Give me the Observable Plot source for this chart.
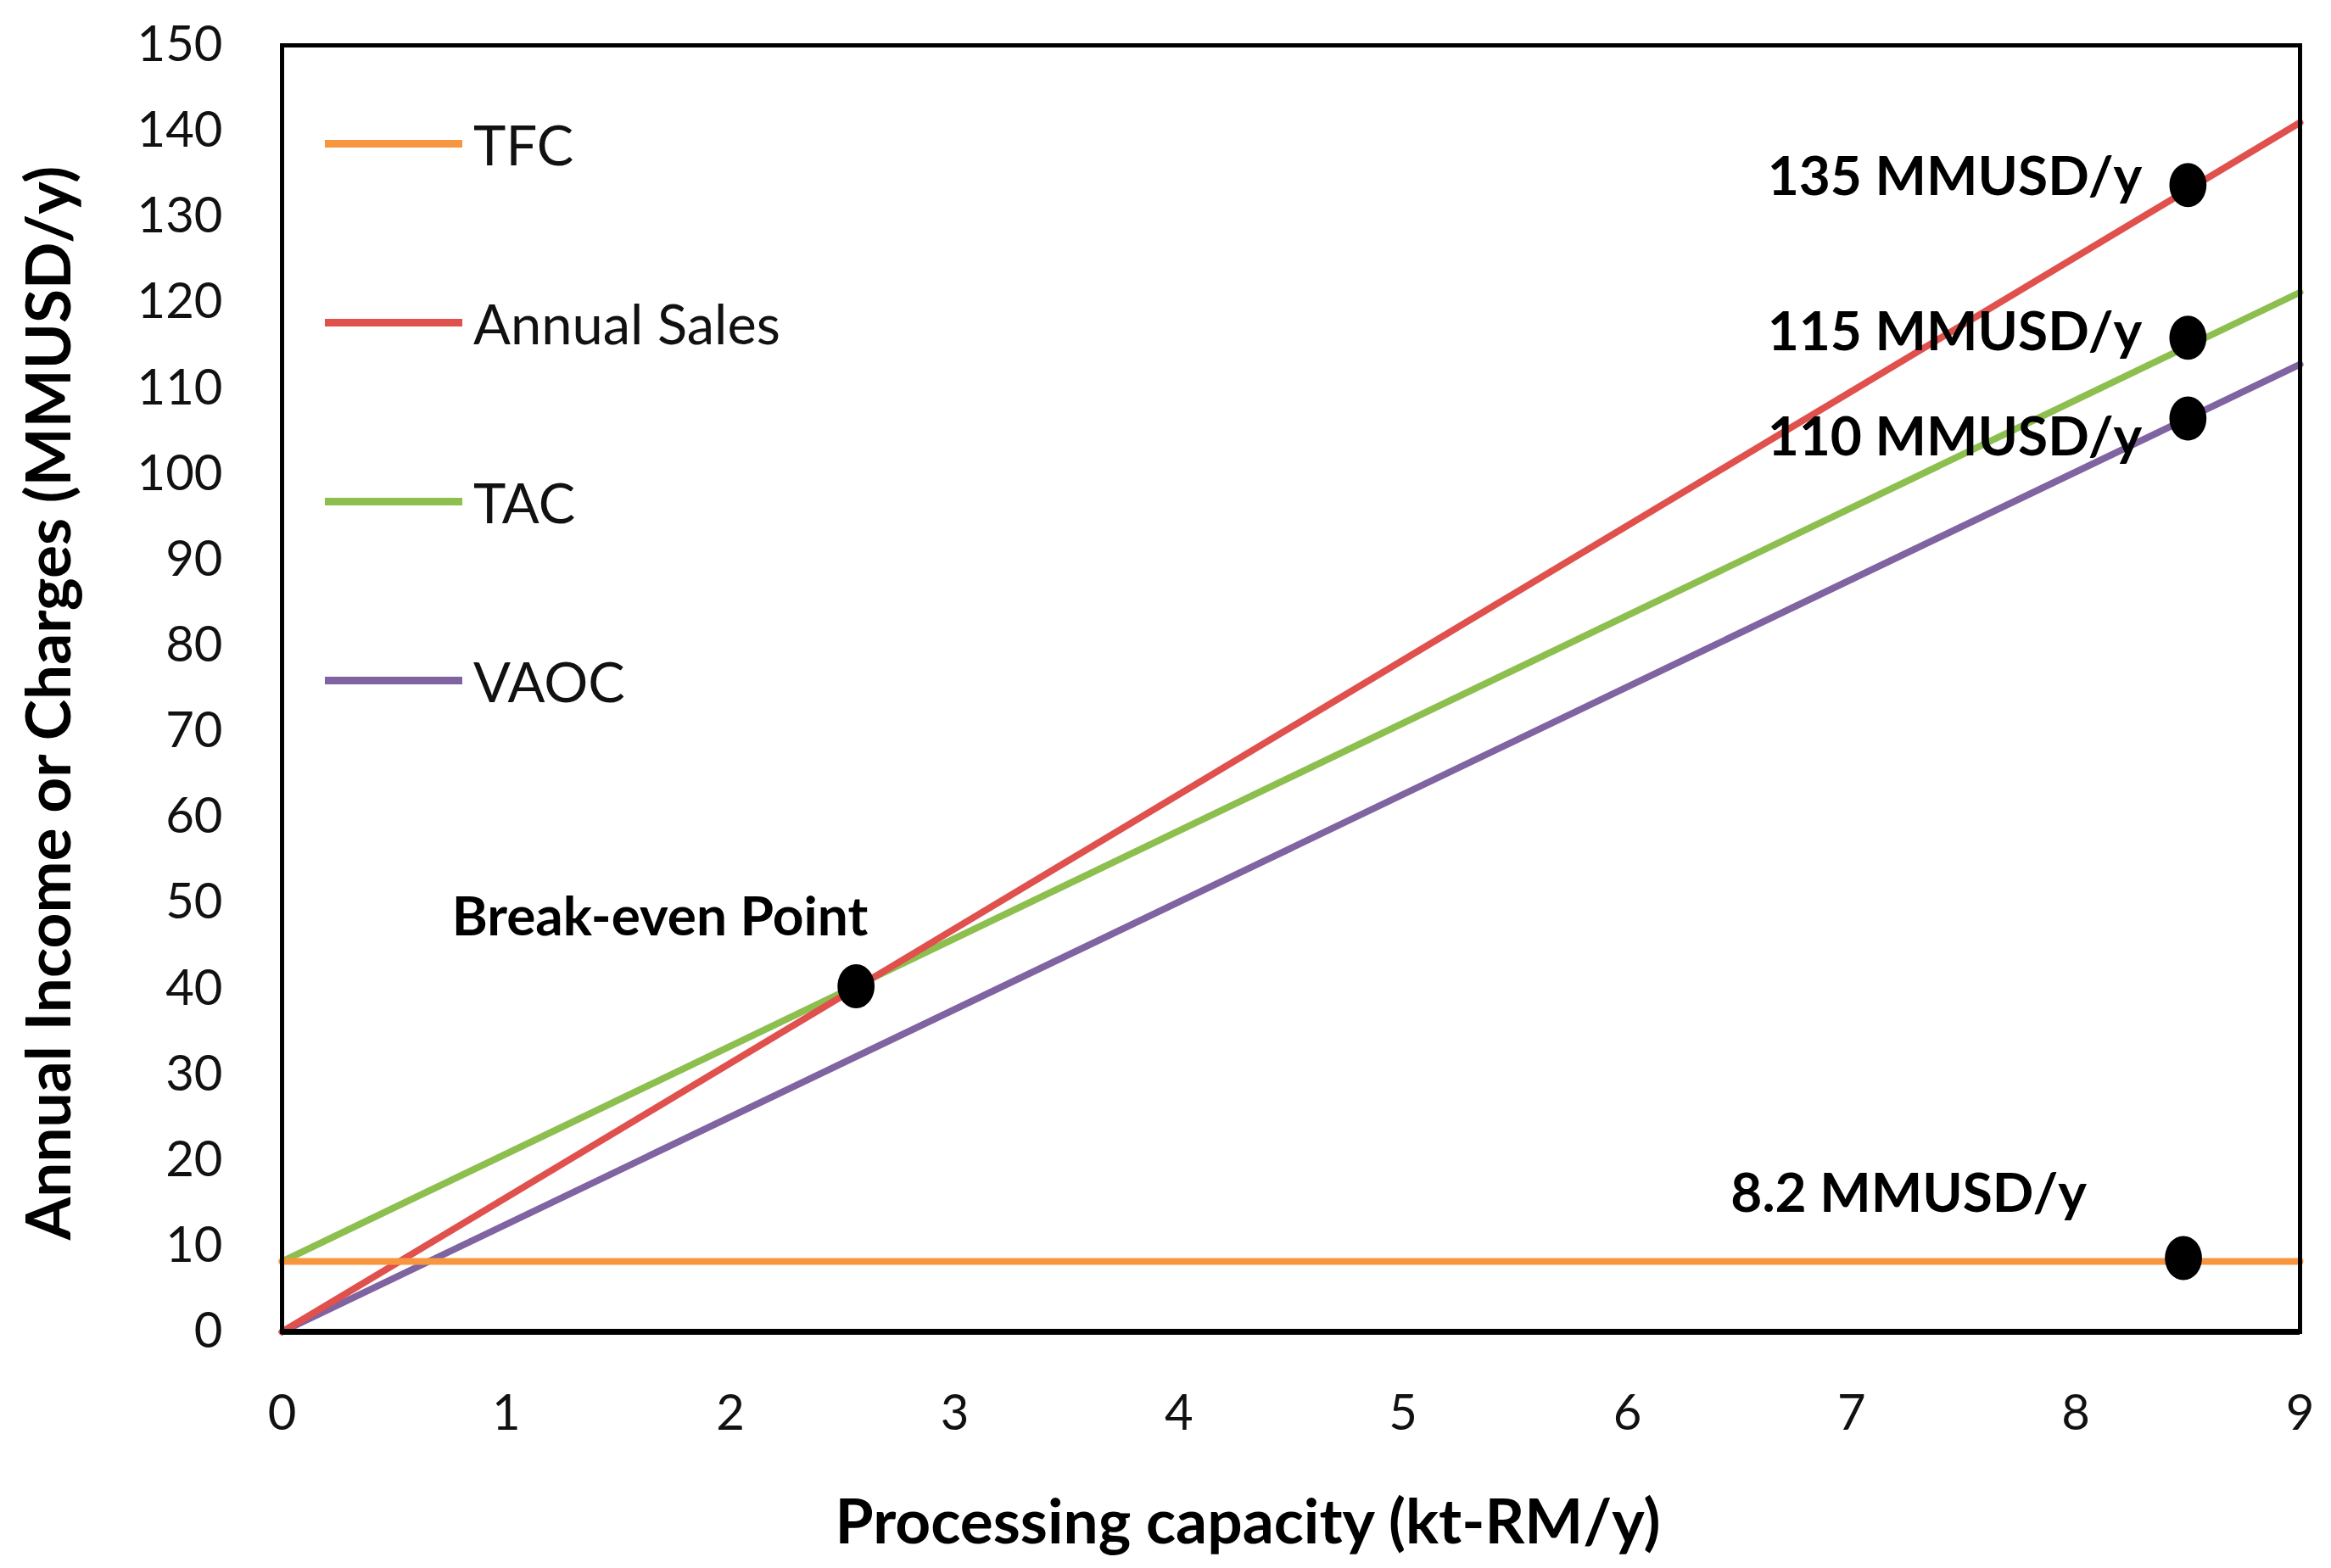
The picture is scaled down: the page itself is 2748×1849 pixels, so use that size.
<!DOCTYPE html>
<html>
<head>
<meta charset="utf-8">
<script src="https://cdn.jsdelivr.net/npm/d3@7"></script>
<script src="https://cdn.jsdelivr.net/npm/@observablehq/plot@0.6"></script>
<style>
  body { margin: 0; background: #fff; font-family: Lato, sans-serif; }
  #wrap { position: relative; width: 2748px; height: 1849px; }
  #legend { position: absolute; left: 383px; top: 64px; }
  #legend .row { display: flex; align-items: center; height: 211px; }
  #legend .swatch { width: 162px; height: 9px; margin-right: 13px; }
  #legend .name { font-size: 65px; color: #111; }
</style>
</head>
<body>
<div id="wrap">
  <div id="chart"></div>
  <div id="legend"></div>
</div>
<script>
// Break-even chart: income and charges vs processing capacity

const capacity = [0, 9];
const tfc = [8.2, 8.2];
const annualSales = [0, 141];
const tac = [8.2, 121.2];
const vaoc = [0, 112.8];

const seriesNames = ["TFC", "Annual Sales", "TAC", "VAOC"];
const seriesColors = ["#f7963f", "#e0504d", "#8dbf4f", "#8064a2"];

const markerX = [2.56, 8.5, 8.5, 8.5, 8.48];
const markerY = [40.3, 133.7, 115.9, 106.5, 8.6];
const markerLabels = ["Break-even Point", "135 MMUSD/y", "115 MMUSD/y", "110 MMUSD/y", "8.2 MMUSD/y"];

const yTicks = d3.range(0, 151, 10);
const xTicks = d3.range(0, 10, 1);

// label offsets (px) from each marker
const labelDx = [14, -54, -54, -54, -114];
const labelDy = [-80, -9, -6, 23, -75];

const seriesValues = [tfc, annualSales, tac, vaoc];
const lineRows = seriesNames.flatMap((name, i) =>
  capacity.map((x, j) => ({series: name, x, y: seriesValues[i][j]}))
);
const markers = markerX.map((x, i) => ({x, y: markerY[i], label: markerLabels[i], dx: labelDx[i], dy: labelDy[i]}));

// ellipse-shaped marker like the Excel original
const ellipse = {
  draw(context, size) {
    const r = Math.sqrt(size / Math.PI);
    const rx = r * 0.84, ry = r, k = 0.5523;
    context.moveTo(rx, 0);
    context.bezierCurveTo(rx, ry * k, rx * k, ry, 0, ry);
    context.bezierCurveTo(-rx * k, ry, -rx, ry * k, -rx, 0);
    context.bezierCurveTo(-rx, -ry * k, -rx * k, -ry, 0, -ry);
    context.bezierCurveTo(rx * k, -ry, rx, -ry * k, rx, 0);
    context.closePath();
  }
};

const drawOrder = ["VAOC", "TAC", "Annual Sales", "TFC"];

const chart = Plot.plot({
  width: 2748,
  height: 1849,
  marginLeft: 332,
  marginRight: 37,
  marginTop: 53,
  marginBottom: 279,
  style: {fontFamily: "Lato, sans-serif", fontSize: "58px", color: "#111", background: "#fff"},
  x: {domain: [0, 9]},
  y: {domain: [0, 150]},
  marks: [
    Plot.axisY({ticks: yTicks, tickSize: 0, tickPadding: 70, label: null, fontSize: 58}),
    Plot.axisX({ticks: xTicks, tickSize: 0, tickPadding: 74, label: null, fontSize: 58}),
    ...drawOrder.map(name => Plot.line(lineRows.filter(d => d.series === name), {
      x: "x", y: "y",
      stroke: seriesColors[seriesNames.indexOf(name)],
      strokeWidth: 8
    })),
    Plot.frame({stroke: "#000", strokeWidth: 5}),
    Plot.ruleY([0], {stroke: "#000", strokeWidth: 7}),
    Plot.dot(markers, {x: "x", y: "y", r: 26, symbol: ellipse, fill: "#000", stroke: null}),
    ...markers.map(m => Plot.text([m], {
      x: "x", y: "y", text: "label",
      dx: m.dx, dy: m.dy,
      textAnchor: "end", fontWeight: "bold", fontSize: 64, fill: "#000"
    })),
    Plot.text(["Processing capacity (kt-RM/y)"], {
      frameAnchor: "bottom", dy: 249, dx: -51, textAnchor: "middle",
      fontWeight: "bold", fontSize: 73, fill: "#000"
    }),
    Plot.text(["Annual Income or Charges (MMUSD/y)"], {
      frameAnchor: "left", dx: -273, dy: 17, rotate: -90, textAnchor: "middle",
      fontWeight: "bold", fontSize: 73, fill: "#000"
    })
  ]
});

document.getElementById("chart").appendChild(chart);

const legend = document.getElementById("legend");
legend.innerHTML = seriesNames.map((name, i) => `
  <div class="row">
    <div class="swatch" style="background:${seriesColors[i]}"></div>
    <div class="name">${name}</div>
  </div>
`).join("");
</script>
</body>
</html>
